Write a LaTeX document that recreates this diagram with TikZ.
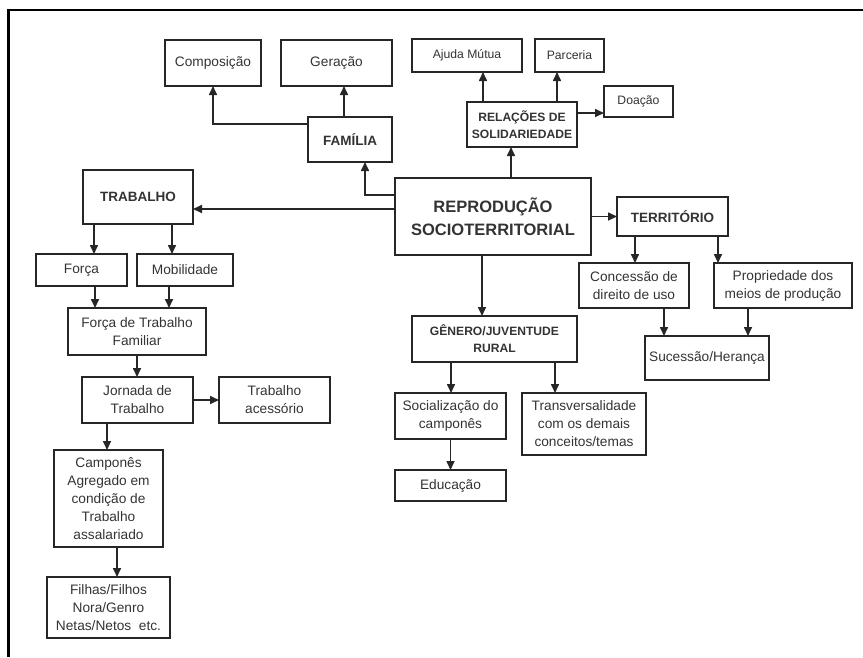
\documentclass[tikz,border=0pt]{standalone}
\usepackage{fontspec}
\setmainfont{Liberation Sans}
\usetikzlibrary{arrows.meta}

\begin{document}
\begin{tikzpicture}[x=1pt, y=-1pt,
    box/.style = {draw=black!85, line width=1.8pt, align=center, inner sep=2pt, outer sep=0pt,
                  text=black!80, font=\fontsize{13.7}{18}\selectfont},
    small/.style = {box, font=\fontsize{12.2}{16}\selectfont},
    head/.style = {box, font=\fontsize{13.5}{17}\selectfont\bfseries},
    headsm/.style = {box, font=\fontsize{12.1}{17}\selectfont\bfseries},
    arr/.style = {draw=black!85, line width=1.6pt, -{Triangle[length=9pt,width=8pt]}}]
    \useasboundingbox (0,0) rectangle (863,657);
    % frame
    \draw[line width=2.8pt] (8.5,657) -- (8.5,10) -- (863,10);

    % centre
    \node[box, minimum width=196pt, minimum height=77pt, font=\fontsize{16.5}{23}\selectfont\bfseries] (rep) at (493,216.5) {REPRODUÇÃO\\SOCIOTERRITORIAL};

    % familia
    \node[head, minimum width=84pt, minimum height=45pt] (fam) at (350,139.5) {FAMÍLIA};
    \node[box, minimum width=96pt, minimum height=46pt] (comp) at (213,63) {Composição};
    \node[box, minimum width=111pt, minimum height=46pt] (gera) at (336.5,63) {Geração};

    % solidariedade
    \node[headsm, minimum width=110pt, minimum height=45pt] (rel) at (522,124.5) {RELAÇÕES DE\\SOLIDARIEDADE};
    \node[small, minimum width=110pt, minimum height=33pt] (ajuda) at (467,55.5) {Ajuda Mútua};
    \node[small, minimum width=69pt, minimum height=33pt] (parc) at (569.5,55.5) {Parceria};
    \node[small, minimum width=69pt, minimum height=31pt] (doa) at (638.5,101.5) {Doação};

    % trabalho
    \node[head, minimum width=110pt, minimum height=54pt] (trab) at (138,197) {TRABALHO};
    \node[box, minimum width=91pt, minimum height=32pt] (forca) at (81.5,270) {Força};
    \node[box, minimum width=96pt, minimum height=32pt] (mob) at (185,270) {Mobilidade};
    \node[box, minimum width=138pt, minimum height=47pt] (ftf) at (137,331.5) {Força de Trabalho\\Familiar};
    \node[box, minimum width=111pt, minimum height=46pt] (jorn) at (137.5,400) {Jornada de\\Trabalho};
    \node[box, minimum width=111pt, minimum height=46pt] (acess) at (274.5,400) {Trabalho\\acessório};
    \node[box, minimum width=109pt, minimum height=97pt] (camp) at (108.5,498.5) {Camponês\\Agregado em\\condição de\\Trabalho\\assalariado};
    \node[box, minimum width=123pt, minimum height=61pt] (filhas) at (108.5,607.5) {Filhas/Filhos\\Nora/Genro\\Netas/Netos\ \ etc.};

    % territorio
    \node[head, minimum width=111pt, minimum height=39pt] (terr) at (672.5,216.5) {TERRITÓRIO};
    \node[box, minimum width=110pt, minimum height=45pt] (conc) at (634,285.5) {Concessão de\\direito de uso};
    \node[box, minimum width=138pt, minimum height=45pt] (prop) at (783,285.5) {Propriedade dos\\meios de produção};
    \node[box, minimum width=124pt, minimum height=44pt] (suc) at (707,358) {Sucessão/Herança};

    % genero
    \node[headsm, minimum width=165pt, minimum height=46pt] (gen) at (494.5,339) {GÊNERO/JUVENTUDE\\RURAL};
    \node[box, minimum width=111pt, minimum height=46pt] (soc) at (450.5,416) {Socialização do\\camponês};
    \node[box, minimum width=124pt, minimum height=62pt] (transv) at (584,424) {Transversalidade\\com os demais\\conceitos/temas};
    \node[box, minimum width=111pt, minimum height=31pt] (edu) at (450.5,485.5) {Educação};

    % connectors
    \draw[arr] ([yshift=21.5pt]rep.west) -| ([xshift=15pt]fam.south);
    \draw[arr] ([yshift=15.5pt]fam.west) -| (comp.south);
    \draw[arr] ([xshift=-6pt]fam.north) -- ([xshift=-6pt]fam.north |- gera.south);
    \draw[arr] ([xshift=18pt]rep.north) -- ([xshift=18pt]rep.north |- rel.south);
    \draw[arr] ([xshift=-39pt]rel.north) -- ([xshift=-39pt]rel.north |- ajuda.south);
    \draw[arr] ([xshift=35pt]rel.north) -- ([xshift=35pt]rel.north |- parc.south);
    \draw[arr] ([yshift=11.5pt]rel.east) -- ([yshift=11.5pt]rel.east -| doa.west);
    \draw[arr] ([yshift=7.5pt]rep.west) -- ([yshift=7.5pt]rep.west -| trab.east);
    \draw[arr] ([xshift=-44pt]trab.south) -- ([xshift=-44pt]trab.south |- forca.north);
    \draw[arr] ([xshift=34pt]trab.south) -- ([xshift=34pt]trab.south |- mob.north);
    \draw[arr] ([xshift=13.5pt]forca.south) -- ([xshift=13.5pt]forca.south |- ftf.north);
    \draw[arr] ([xshift=-16pt]mob.south) -- ([xshift=-16pt]mob.south |- ftf.north);
    \draw[arr] (ftf.south) -- (ftf.south |- jorn.north);
    \draw[arr] (jorn.east) -- (acess.west);
    \draw[arr] ([xshift=-30.5pt]jorn.south) -- ([xshift=-30.5pt]jorn.south |- camp.north);
    \draw[arr] ([xshift=8.5pt]camp.south) -- ([xshift=8.5pt]camp.south |- filhas.north);
    \draw[arr] (rep.east) -- (terr.west);
    \draw[arr] ([xshift=-37.5pt]terr.south) -- ([xshift=-37.5pt]terr.south |- conc.north);
    \draw[arr] ([xshift=45.5pt]terr.south) -- ([xshift=45.5pt]terr.south |- prop.north);
    \draw[arr] ([xshift=30pt]conc.south) -- ([xshift=30pt]conc.south |- suc.north);
    \draw[arr] ([xshift=-35pt]prop.south) -- ([xshift=-35pt]prop.south |- suc.north);
    \draw[arr] ([xshift=-11pt]rep.south) -- ([xshift=-11pt]rep.south |- gen.north);
    \draw[arr] ([xshift=-43.5pt]gen.south) -- ([xshift=-43.5pt]gen.south |- soc.north);
    \draw[arr] ([xshift=60.5pt]gen.south) -- ([xshift=60.5pt]gen.south |- transv.north);
    \draw[arr] (soc.south) -- (edu.north);
\end{tikzpicture}
\end{document}
